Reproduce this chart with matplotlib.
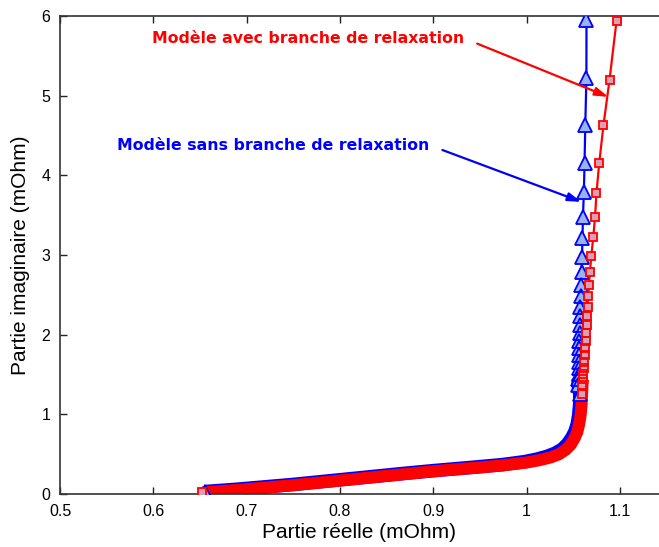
import matplotlib
matplotlib.use("Agg")
import matplotlib.pyplot as plt

# ---------------- data ----------------
# Model WITH relaxation branch (red squares), ordered from the left start point upward
red_re = [0.6525, 0.69, 0.72, 0.75, 0.78, 0.81, 0.84, 0.87, 0.90, 0.925, 0.95, 0.975,
          1.0, 1.014, 1.026, 1.035, 1.042, 1.0475, 1.0515, 1.0545, 1.0565, 1.058, 1.059,
          1.0595, 1.060, 1.0605, 1.061, 1.0615, 1.062, 1.0625, 1.063, 1.0635, 1.064,
          1.0645, 1.065, 1.0655, 1.066, 1.067, 1.068, 1.0695, 1.0715, 1.0735, 1.075,
          1.078, 1.0825, 1.089, 1.0965]
red_im = [0.02, 0.05, 0.08, 0.11, 0.145, 0.18, 0.215, 0.25, 0.285, 0.31, 0.333, 0.36,
          0.395, 0.425, 0.46, 0.50, 0.555, 0.62, 0.70, 0.78, 0.88, 0.99, 1.12,
          1.25, 1.37, 1.44, 1.51, 1.58, 1.66, 1.74, 1.83, 1.92, 2.02,
          2.12, 2.23, 2.35, 2.48, 2.62, 2.79, 2.99, 3.22, 3.48, 3.78,
          4.16, 4.63, 5.20, 5.94]
red_dense = 25   # first points merge into a solid band

# Model WITHOUT relaxation branch (blue triangles)
blue_re = [0.655, 0.69, 0.72, 0.75, 0.78, 0.81, 0.84, 0.87, 0.90, 0.925, 0.95, 0.975,
           0.998, 1.011, 1.022, 1.031, 1.0385, 1.044, 1.0485, 1.052, 1.0545, 1.056, 1.057,
           1.0572, 1.0554, 1.0556, 1.0558, 1.056, 1.0562, 1.0564, 1.0566, 1.0568, 1.057,
           1.0572, 1.0575, 1.0578, 1.058, 1.0587, 1.059, 1.0595, 1.060, 1.0605, 1.0615,
           1.0622, 1.063, 1.0642, 1.0643]
blue_im = [0.03, 0.06, 0.09, 0.12, 0.155, 0.19, 0.225, 0.26, 0.293, 0.318, 0.343, 0.37,
           0.406, 0.437, 0.472, 0.513, 0.565, 0.63, 0.705, 0.785, 0.88, 0.99, 1.12,
           1.25, 1.37, 1.44, 1.51, 1.58, 1.66, 1.74, 1.83, 1.92, 2.02,
           2.12, 2.23, 2.35, 2.48, 2.62, 2.79, 2.98, 3.21, 3.48, 3.79,
           4.15, 4.63, 5.22, 5.95]
blue_dense = 25

x_ticks = [0.5, 0.6, 0.7, 0.8, 0.9, 1.0, 1.1]
x_tick_labels = ["0.5", "0.6", "0.7", "0.8", "0.9", "1", "1.1"]
y_ticks = [0, 1, 2, 3, 4, 5, 6]
y_tick_labels = ["0", "1", "2", "3", "4", "5", "6"]

label_red = "Modèle avec branche de relaxation"
label_blue = "Modèle sans branche de relaxation"
red_text_xy = (0.5986, 5.72)
red_arrow_tip = (1.0877, 4.985)
blue_text_xy = (0.561, 4.38)
blue_arrow_tip = (1.0587, 3.667)

# ---------------- styles ----------------
RED = "#ff0000"
RED_FACE = "#d9a0b8"
BLUE = "#0000ff"
BLUE_FACE = "#99b3ee"

plt.rcParams['font.family'] = ['Liberation Sans', 'DejaVu Sans']

fig = plt.figure(figsize=(6.59, 5.47), dpi=100)
fig.patch.set_facecolor("white")
ax = fig.add_axes([60 / 659, 1 - 494 / 547, 599 / 659, 478 / 547])


def draw_series(xs, ys, nd, color, face, marker, ms, band_lw):
    # dense low-frequency part: markers merge into a solid band
    ax.plot(xs[:nd + 1], ys[:nd + 1], color=color, lw=band_lw,
            solid_capstyle="butt", solid_joinstyle="round", zorder=2)
    # sparse high-frequency part: line + faces, then marker edges on top
    ax.plot(xs[nd - 2:], ys[nd - 2:], color=color, lw=1.6, marker=marker, ms=ms,
            mfc=face, mec="none", zorder=3)
    ax.plot(xs[nd - 2:], ys[nd - 2:], ls="none", marker=marker, ms=ms,
            mfc="none", mec=color, mew=1.3, zorder=3)
    # start point marker
    ax.plot(xs[:1], ys[:1], ls="none", marker=marker, ms=ms, mfc=face, mec=color,
            mew=1.3, zorder=4)


draw_series(blue_re, blue_im, blue_dense, BLUE, BLUE_FACE, "^", 10.0, 9.8)
draw_series(red_re, red_im, red_dense, RED, RED_FACE, "s", 5.4, 8.7)

ax.set_xlim(0.5, 0.5 + 599 / 933)
ax.set_ylim(0, 6)
ax.set_xticks(x_ticks)
ax.set_xticklabels(x_tick_labels)
ax.set_yticks(y_ticks)
ax.set_yticklabels(y_tick_labels)
ax.tick_params(direction="in", length=5, width=1, colors="#222222", labelsize=11.5,
               top=True, right=False, pad=7)
for lab in ax.get_xticklabels() + ax.get_yticklabels():
    lab.set_color("black")
for side in ["left", "bottom", "top"]:
    ax.spines[side].set_color("#333333")
    ax.spines[side].set_linewidth(1.2)
ax.spines["right"].set_visible(False)

ax.set_xlabel("Partie réelle (mOhm)", fontsize=15, labelpad=3)
ax.set_ylabel("Partie imaginaire (mOhm)", fontsize=15, labelpad=8)

for label, tip, xy, col in [(label_red, red_arrow_tip, red_text_xy, RED),
                            (label_blue, blue_arrow_tip, blue_text_xy, BLUE)]:
    ax.annotate(label, xy=tip, xytext=xy, color=col,
                fontsize=11.3, fontweight="bold", family="DejaVu Sans",
                va="center", ha="left",
                arrowprops=dict(arrowstyle="-|>,head_length=0.7,head_width=0.22",
                                color=col, lw=1.6, shrinkA=8, shrinkB=0,
                                relpos=(1.0, 0.5)))

fig.savefig("out.png", dpi=100, facecolor="white")
